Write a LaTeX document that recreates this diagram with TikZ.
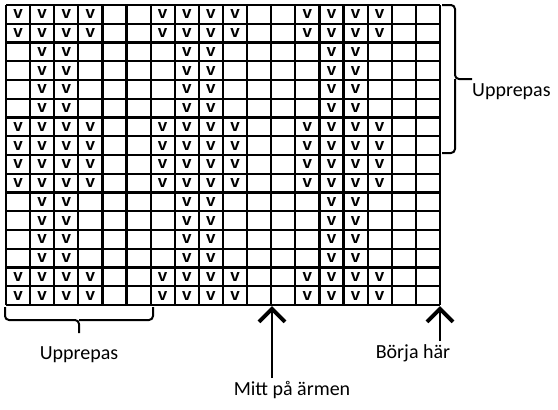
\documentclass[tikz,border=0pt]{standalone}
\usepackage{fontspec}
\setmainfont{Carlito}
\newfontfamily\stitchfont{Liberation Sans}
\usetikzlibrary{arrows.meta}
\tikzset{
  gridline/.style={line width=2.3pt},
  stitch/.style={font=\stitchfont\bfseries\fontsize{17}{17}\selectfont, inner sep=0pt},
  label/.style={font=\fontsize{20}{20}\selectfont, inner sep=0pt},
  brace/.style={line width=2pt, rounded corners=4pt},
  pointer/.style={line width=2pt, -{Straight Barb[length=13pt,width=26pt,line width=4pt]}}
}
\begin{document}
\begin{tikzpicture}[x=1pt,y=-1pt]
  \useasboundingbox (0,0) rectangle (558,410);
  \foreach \i in {0,...,18} {
    \draw[gridline] (6+\i*24.11,5) -- (6+\i*24.11,305);
  }
  \foreach \j in {0,...,16} {
    \draw[gridline] (6,5+\j*18.75) -- (440,5+\j*18.75);
  }
  \foreach \r in {1,2,7,8,9,10,15,16} {
    \foreach \c in {1,2,3,4,7,8,9,10,13,14,15,16} {
      \node[stitch] (v-\r-\c) at (6+\c*24.11-12.05,5+\r*18.75-9.4) {v};
    }
  }
  \foreach \r in {3,4,5,6,11,12,13,14} {
    \foreach \c in {2,3,8,9,14,15} {
      \node[stitch] (v-\r-\c) at (6+\c*24.11-12.05,5+\r*18.75-9.4) {v};
    }
  }
  \draw[brace] (442,5) -- (455,5) -- (455,79) -- (472,79);
  \draw[brace] (455,79) -- (455,153) -- (442,153);
  \node[label, anchor=west] (rep-right) at (472,92) {Upprepas};
  \draw[brace] (5,307) -- (5,320) -- (79,320) -- (79,333);
  \draw[brace] (79,320) -- (153,320) -- (153,307);
  \node[label] (rep-below) at (79,355) {Upprepas};
  \node[label] (middle) at (292,390) {Mitt på ärmen};
  \node[label] (start) at (413,353) {Börja här};
  \coordinate (middle-top) at (272,306);
  \coordinate (start-top) at (440,306);
  \draw[pointer] (272,378) -- (middle-top);
  \draw[pointer] (440,341) -- (start-top);
\end{tikzpicture}
\end{document}
